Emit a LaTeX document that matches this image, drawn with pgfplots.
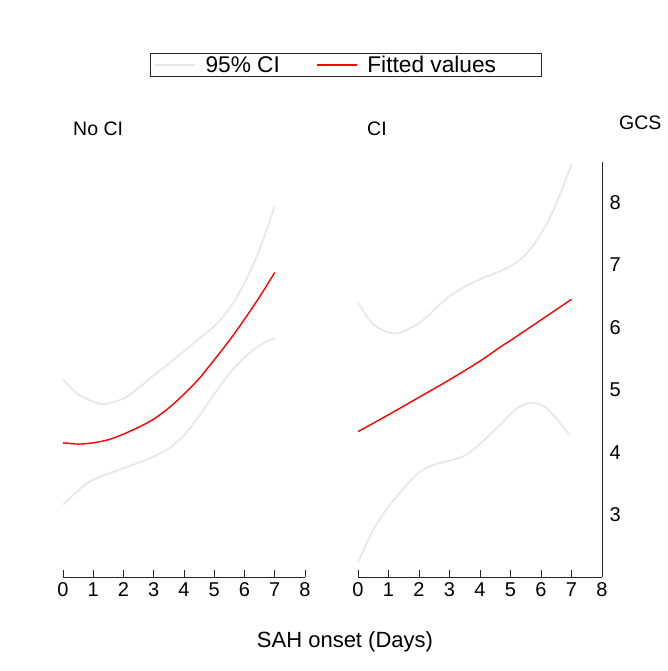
\documentclass[border=0pt]{standalone}
\usepackage{fontspec}
\setmainfont{Liberation Sans}
\usepackage{pgfplots}
\pgfplotsset{compat=1.18}
\definecolor{cigray}{RGB}{232,232,232}
\begin{document}
\begin{tikzpicture}
\path[use as bounding box] (0,0) rectangle (667pt,671pt);
\pgfplotsset{
  panel/.style={
    scale only axis, width=242pt, height=415pt,
    xmin=0, xmax=8, ymin=2, ymax=8.65,
    xtick={0,...,8},
    tick align=inside, major tick length=7pt,
    axis line style={black!85, line width=0.9pt},
    tick style={black!85, line width=0.9pt},
    /pgf/number format/assume math mode=true,
    tick label style={font=\fontsize{20}{24}\selectfont},
    xticklabel style={yshift=-2pt},
    clip=false,
  },
  ci/.style={cigray, line width=1.8pt, smooth},
  fit/.style={red, line width=1.4pt, smooth},
}
% Left panel: No CI
\begin{axis}[panel, at={(63pt,94pt)}, anchor=south west,
  axis x line*=bottom, axis y line=none,
  legend style={at={(1.169,1.234)}, anchor=center, draw=black!85, line width=0.8pt,
    font=\fontsize{22.7}{26}\selectfont, legend columns=2,
    inner xsep=3pt, inner ysep=1pt,
    /tikz/every odd column/.append style={column sep=8pt},
    /tikz/every even column/.append style={column sep=34pt}},
  legend image code/.code={\draw[#1] (0pt,0pt) -- (40pt,0pt);},
]
\addplot[ci] coordinates {(0,5.17) (0.5,4.93) (1.28,4.77) (2,4.86) (2.5,5.03) (3,5.23) (3.5,5.42) (4,5.62) (4.5,5.82) (5,6.02) (5.5,6.30) (6,6.71) (6.5,7.25) (7,7.95)};
\addlegendentry{95\% CI}
\addplot[ci, forget plot] coordinates {(0,3.16) (0.89,3.53) (1.99,3.74) (2.5,3.83) (3,3.93) (3.5,4.06) (4,4.27) (4.5,4.58) (5,4.93) (5.5,5.26) (6,5.52) (6.5,5.71) (7,5.83)};
\addplot[fit] coordinates {(0,4.15) (0.5,4.13) (1,4.15) (1.5,4.20) (2,4.29) (2.5,4.40) (3,4.53) (3.5,4.71) (4,4.93) (4.5,5.18) (5,5.48) (5.5,5.79) (6,6.13) (6.5,6.49) (7,6.88)};
\addlegendentry{Fitted values\hspace*{40pt}\null}
\end{axis}
% Right panel: CI
\begin{axis}[panel, at={(358pt,94pt)}, anchor=south west, width=244pt,
  axis x line*=bottom, axis y line*=right,
  ytick={3,...,8}, ytick style={draw=none},
  yticklabel style={anchor=west, xshift=4pt},
]
\addplot[ci] coordinates {(0,6.40) (0.5,6.05) (1.21,5.90) (2,6.07) (2.69,6.37) (3,6.50) (3.5,6.65) (4,6.77) (4.5,6.87) (5,6.98) (5.5,7.17) (6,7.50) (6.5,7.98) (7,8.62)};
\addplot[ci] coordinates {(0,2.24) (0.5,2.75) (1.05,3.16) (1.92,3.64) (2.5,3.80) (3.56,3.96) (4.66,4.44) (5.2,4.70) (5.7,4.79) (6.2,4.70) (6.93,4.28)};
\addplot[fit] coordinates {(0,4.33) (1,4.60) (2,4.88) (3,5.16) (4,5.46) (4.71,5.70) (5,5.79) (6,6.12) (7,6.45)};
\end{axis}
\node[anchor=west, font=\fontsize{19.5}{23}\selectfont, inner sep=0pt] at (73pt,542pt) {No CI};
\node[anchor=west, font=\fontsize{19.5}{23}\selectfont, inner sep=0pt] at (367pt,542pt) {CI};
\node[anchor=west, font=\fontsize{19.5}{23}\selectfont, inner sep=0pt] at (619pt,548pt) {GCS};
\node[anchor=center, font=\fontsize{22}{26}\selectfont, inner sep=0pt] at (345pt,29pt) {SAH onset (Days)};
\end{tikzpicture}
\end{document}
